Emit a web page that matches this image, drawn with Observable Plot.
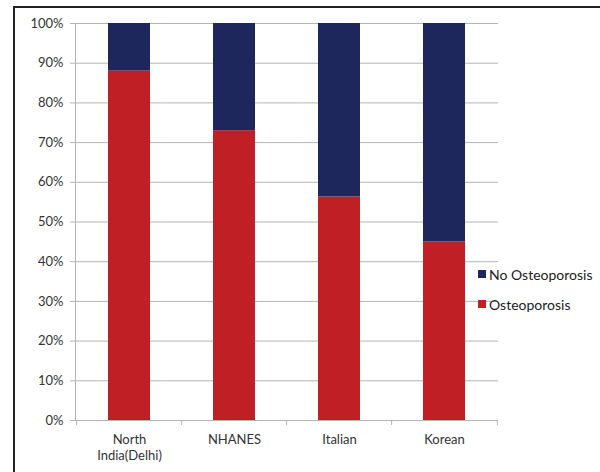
<!DOCTYPE html>
<html>
<head>
<meta charset="utf-8">
<script src="https://cdn.jsdelivr.net/npm/d3@7"></script>
<script src="https://cdn.jsdelivr.net/npm/@observablehq/plot@0.6"></script>
<style>
  html, body { margin: 0; padding: 0; background: #fff; }
  #wrap { position: relative; width: 600px; height: 472px; overflow: hidden; font-family: Lato, "Open Sans", sans-serif; }
  #frame { position: absolute; left: 13px; top: 6px; width: 700px; height: 600px; border: 2px solid #222; box-sizing: border-box; }
  #chart { position: absolute; left: 0; top: 0; }
  #legend { position: absolute; left: 478px; top: 259px; font-size: 14px; color: #222; }
  .item { display: flex; align-items: center; height: 30px; }
  .sw { width: 8px; height: 8px; margin-right: 3px; }
</style>
</head>
<body>
<div id="wrap">
  <div id="frame"></div>
  <div id="chart"></div>
  <div id="legend"></div>
</div>
<script>
const categories = ["North\nIndia(Delhi)", "NHANES", "Italian", "Korean"];
const osteoporosis = [0.88, 0.73, 0.563, 0.45];
const noOsteoporosis = [0.12, 0.27, 0.437, 0.55];
const seriesNames = ["Osteoporosis", "No Osteoporosis"];
const seriesColors = ["#c01f25", "#1e275c"];
const yTicks = [0, 0.1, 0.2, 0.3, 0.4, 0.5, 0.6, 0.7, 0.8, 0.9, 1.0];

const data = [];
categories.forEach((c, i) => {
  data.push({cat: c, series: seriesNames[0], value: osteoporosis[i]});
  data.push({cat: c, series: seriesNames[1], value: noOsteoporosis[i]});
});

const step = (498 - 75) / 4;

const chart = Plot.plot({
  width: 600,
  height: 472,
  marginLeft: 75,
  marginRight: 102,
  marginTop: 23,
  marginBottom: 52,
  style: {fontFamily: "Lato, 'Open Sans', sans-serif", fontSize: "13px", color: "#333", background: "transparent"},
  x: {domain: categories, paddingInner: 0.6, paddingOuter: 0.3, label: null},
  y: {domain: [0, 1], label: null},
  color: {domain: seriesNames, range: seriesColors},
  marks: [
    Plot.gridY(yTicks, {stroke: "#b4b4b4", strokeOpacity: 1, strokeWidth: 1}),
    Plot.axisY(yTicks, {tickFormat: d3.format(".0%"), tickSize: 5, tickPadding: 7, stroke: "#b4b4b4", label: null}),
    Plot.frame({anchor: "left", stroke: "#b4b4b4"}),
    Plot.barY(data, {x: "cat", y: "value", fill: "series", order: seriesNames}),
    Plot.ruleY([0], {stroke: "#b4b4b4"}),
    Plot.axisX({tickSize: 0, tickPadding: 12, label: null, lineHeight: 1.25}),
    Plot.axisX({tickSize: 5, text: null, dx: -step / 2, stroke: "#b4b4b4", label: null}),
    Plot.axisX([categories[categories.length - 1]], {tickSize: 5, text: null, dx: step / 2, stroke: "#b4b4b4", label: null})
  ]
});
document.getElementById("chart").appendChild(chart);

const legend = document.getElementById("legend");
[1, 0].forEach(i => {
  const item = document.createElement("div");
  item.className = "item";
  item.innerHTML = `<span class="sw" style="background:${seriesColors[i]}"></span><span>${seriesNames[i]}</span>`;
  legend.appendChild(item);
});
</script>
</body>
</html>
